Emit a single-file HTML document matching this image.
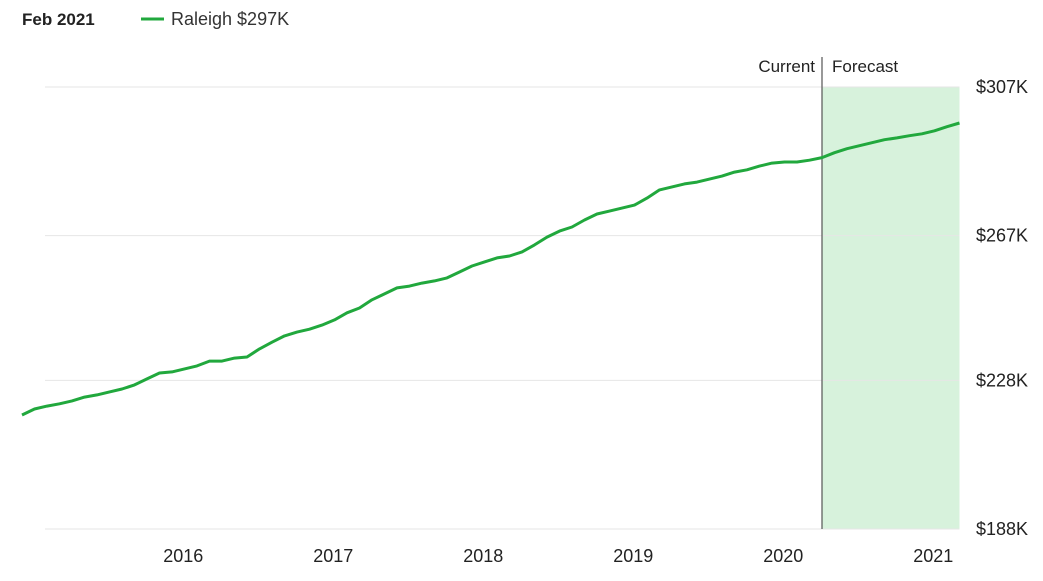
<!DOCTYPE html>
<html><head><meta charset="utf-8">
<style>
body{margin:0;width:1043px;height:581px;background:#fff;font-family:"Liberation Sans",sans-serif;overflow:hidden}
svg{position:absolute;left:0;top:0}
</style></head>
<body>
<svg width="1043" height="581" id="chart">
  <text x="22" y="25" font-size="17" font-weight="bold" fill="#222">Feb 2021</text>
  <line x1="141" y1="19" x2="164" y2="19" stroke="#21a83d" stroke-width="3"/>
  <text x="171" y="25" font-size="18" fill="#333">Raleigh $297K</text>
  <g id="grid"></g>
  <g id="plot"></g>
  <text x="815" y="72" font-size="17" fill="#222" text-anchor="end">Current</text>
  <text x="832" y="72" font-size="17" fill="#222">Forecast</text>
</svg>
<script>
const values=[218.7,220.3,221.1,221.7,222.5,223.5,224.1,224.9,225.7,226.8,228.4,230.0,230.3,231.1,231.9,233.2,233.2,234.0,234.3,236.5,238.3,240.0,241.0,241.8,242.9,244.3,246.2,247.5,249.7,251.3,252.9,253.4,254.2,254.8,255.6,257.2,258.8,259.9,261.0,261.5,262.6,264.5,266.6,268.2,269.3,271.2,272.8,273.6,274.4,275.2,277.1,279.3,280.1,280.9,281.4,282.2,283.0,284.1,284.7,285.7,286.5,286.8,286.8,287.3,288.0,289.3,290.4,291.2,292.0,292.8,293.3,293.9,294.4,295.2,296.3,297.3];
const currentIndex=64;
const yTickValues=[307,267,228,188];
const yTickLabels=["$307K","$267K","$228K","$188K"];
const xTickLabels=["2016","2017","2018","2019","2020","2021"];
const xTickIndex=[12.9,24.9,36.9,48.9,60.9,72.9];

const NS="http://www.w3.org/2000/svg";
const X0=22,X1=959.5,Y0=529,Y1=87,VMIN=188,VMAX=307;
const x=i=>X0+i*(X1-X0)/(values.length-1);
const y=v=>Y0-(v-VMIN)*(Y0-Y1)/(VMAX-VMIN);
const grid=document.getElementById('grid'),plot=document.getElementById('plot');
function mk(tag,attrs,parent){const e=document.createElementNS(NS,tag);for(const k in attrs)e.setAttribute(k,attrs[k]);parent.appendChild(e);return e;}

const fr=mk('rect',{x:x(currentIndex),y:Y1,width:X1-x(currentIndex),height:Y0-Y1,fill:'#d7f2dc'},grid);



yTickValues.forEach((v,k)=>{
  const l=mk('line',{x1:45,x2:X1,y1:y(v),y2:y(v),stroke:'#e6e6e6','stroke-width':1},grid);
  
  
  const t=mk('text',{x:976,y:y(v)+6,'font-size':18,fill:'#222'},grid);
  t.textContent=yTickLabels[k];
  
  
});
xTickLabels.forEach((s,k)=>{
  const t=mk('text',{x:x(xTickIndex[k]),y:562,'font-size':18,fill:'#222','text-anchor':'middle'},grid);
  t.textContent=s;
  
  
});
const cl=mk('line',{x1:x(currentIndex),x2:x(currentIndex),y1:57,y2:Y0,stroke:'#555','stroke-width':1.2},plot);



const path=mk('path',{d:values.map((v,i)=>(i?'L':'M')+x(i).toFixed(1)+','+y(v).toFixed(1)).join(''),fill:'none',stroke:'#21a83d','stroke-width':3,'stroke-linejoin':'round'},plot);


</script>
</body></html>
